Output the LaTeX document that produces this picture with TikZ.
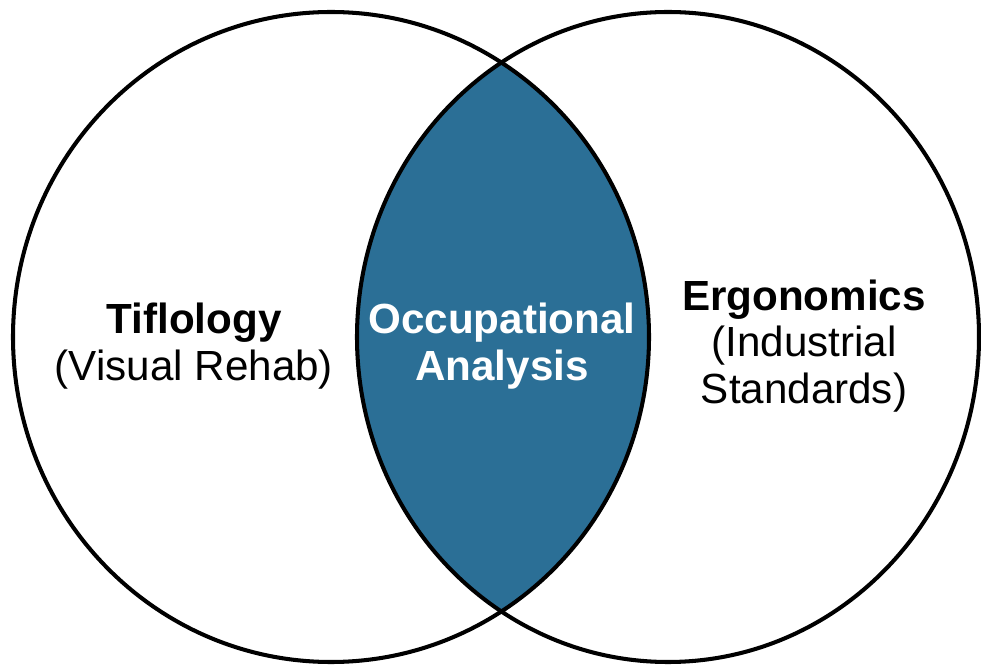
\documentclass[tikz,border=0pt]{standalone}
\usepackage{fontspec}
\setmainfont{Liberation Sans}
\usetikzlibrary{positioning}
\definecolor{lensblue}{RGB}{43,111,150}
\tikzset{
x=0.02cm, y=-0.02cm, % work in pixel-like units, y pointing down
set line/.style={line width=2.3pt, draw=black}, % outline of each set
set text/.style={align=center, font=\fontsize{24}{26.5}\selectfont}, % labels inside the sets
}

\begin{document}
\begin{tikzpicture}
\useasboundingbox (0,0) rectangle (981,665);
\coordinate (tif) at (331,337);
\coordinate (erg) at (668,337);
% overlap of the two sets
\begin{scope}
\clip (tif) ellipse [x radius=318, y radius=325];
\fill[lensblue] (erg) ellipse [x radius=311, y radius=325];
\end{scope}
\draw[set line] (tif) ellipse [x radius=318, y radius=325];
\draw[set line] (erg) ellipse [x radius=311, y radius=325];
\node[set text] (tiflo) at (194,346) {\textbf{Tiflology}\\(Visual Rehab)};
\node[set text, text=white] (occup) at (502,346) {\textbf{Occupational}\\\textbf{Analysis}};
\node[set text] (ergo) at (804,346) {\textbf{Ergonomics}\\(Industrial\\Standards)};
\end{tikzpicture}
\end{document}
